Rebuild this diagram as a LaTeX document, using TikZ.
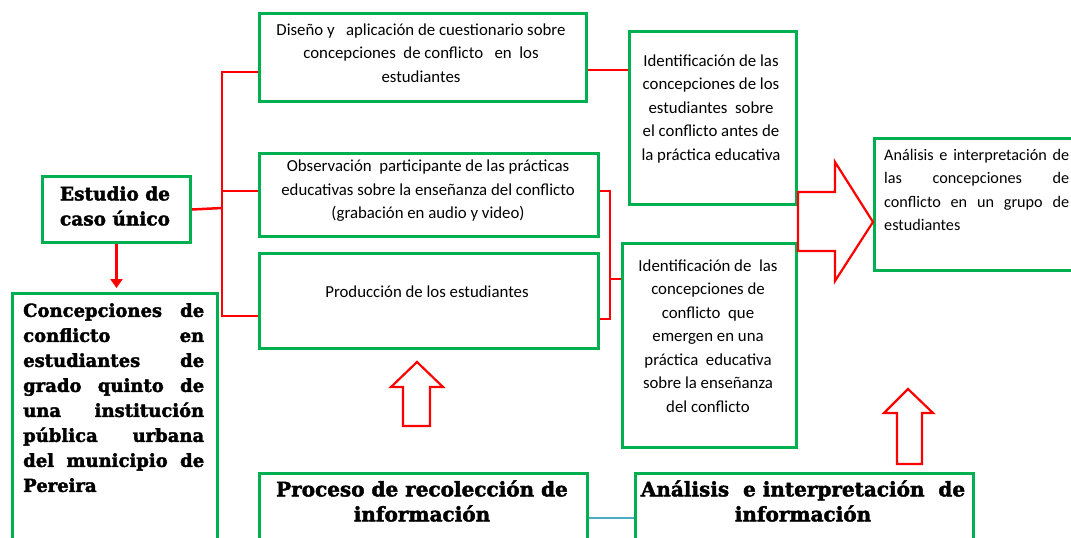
\documentclass[tikz,border=0pt]{standalone}
\usepackage{fontspec}
\setmainfont{Carlito}
\newfontfamily\heavy{DejaVu Serif}[BoldFeatures={FakeBold=2.2}]
\usetikzlibrary{arrows.meta}
\definecolor{bgreen}{HTML}{00B050}
\definecolor{bred}{HTML}{FF0000}
\definecolor{lblue}{HTML}{4BACC6}
\begin{document}
\begin{tikzpicture}[x=1pt,y=-1pt,
 box/.style={draw=bgreen, line width=3pt, inner sep=0pt, anchor=north west},
 txt/.style={font=\fontsize{16.8}{23.5}\selectfont, align=center, inner sep=0pt, text=black},
 hv/.style={font=\heavy\bfseries\fontsize{18}{25}\selectfont, inner sep=0pt},
 con/.style={draw=bred, line width=2.5pt},
 barrow/.style={draw=bred, line width=2.2pt, line join=miter}]
\useasboundingbox (0,0) rectangle (1071,538);
% boxes
\node[box, minimum width=148pt, minimum height=66pt] (est) at (41,175) {};
\node[box, minimum width=205pt, minimum height=262pt] (conc) at (11,292) {};
\node[box, minimum width=327pt, minimum height=88pt] (dis) at (258,12) {};
\node[box, minimum width=339pt, minimum height=83pt] (obs) at (258,152) {};
\node[box, minimum width=339pt, minimum height=95pt] (prod) at (258,252) {};
\node[box, minimum width=167pt, minimum height=173pt] (id1) at (628,30) {};
\node[box, minimum width=174pt, minimum height=204pt] (id2) at (621,242) {};
\node[box, minimum width=215pt, minimum height=132pt] (res) at (873,137) {};
\node[box, minimum width=328pt, minimum height=82pt] (proc) at (258,472) {};
\node[box, minimum width=338pt, minimum height=82pt] (ana) at (634,472) {};
% texts
\node[hv, align=center, font=\heavy\bfseries\fontsize{18.5}{25}\selectfont] (estT) at (115,206) {Estudio de\\caso único};
\node[hv, anchor=north west, text width=181pt, align=left] (concT) at (23,303)
 {Concepciones\hfill de\\conflicto\hfill en\\estudiantes\hfill de\\grado\hfill quinto\hfill de\\una\hfill institución\\pública\hfill urbana\\del\hfill municipio\hfill de\\Pereira};
\node[txt] (disT) at (421,53) {Diseño y \ \ aplicación de cuestionario sobre\\concepciones \ de conflicto \ \ en \ los\\estudiantes};
\node[txt] (obsT) at (428,191) {Observación \ participante de las prácticas\\educativas sobre la enseñanza del conflicto\\(grabación en audio y video)};
\node[txt] (prodT) at (427,292) {Producción de los estudiantes};
\node[txt] (id1T) at (711,109) {Identificación de las\\concepciones de los\\estudiantes \ sobre\\el conflicto antes de\\la práctica educativa};
\node[txt] (id2T) at (708,336) {Identificación de \ las\\concepciones de\\conflicto \ que\\emergen en una\\práctica \ educativa\\sobre la enseñanza\\del conflicto};
\node[txt, anchor=north west, text width=185pt, align=left, font=\fontsize{16.2}{23.5}\selectfont] (resT) at (884,149)
 {Análisis\hfill e\hfill interpretación\hfill de\\las\hfill concepciones\hfill de\\conflicto\hfill en\hfill un\hfill grupo\hfill de\\estudiantes};
\node[hv, align=center, font=\heavy\bfseries\fontsize{20}{25}\selectfont] (procT) at (422,501) {Proceso de recolección de\\información};
\node[hv, align=center, font=\heavy\bfseries\fontsize{20}{25}\selectfont] (anaT) at (803,501) {Análisis \ e interpretación \ de\\información};
% connectors
\coordinate (j) at (222,208);
\draw[con] (est.east) -- (j);
\draw[con] (dis.west |- 0,72) -- (222,72) -- (222,316) -- (prod.west |- 0,316);
\draw[con] (222,191) -- (obs.west |- 0,191);
\draw[con] (dis.east |- 0,70) -- (id1.west |- 0,70);
\draw[con] (obs.east |- 0,191) -- (610,191) -- (610,319) -- (prod.east |- 0,319);
\draw[con] (610,279) -- (id2.west |- 0,279);
\draw[con, -{Triangle[width=12pt,length=9pt]}, shorten >=4pt] (est.south) -- (est.south |- conc.north);
\draw[lblue, line width=2.5pt] (proc.east |- 0,518) -- (ana.west |- 0,518);
% block arrows
\draw[barrow] (id1.east |- 0,192) -- (835,192) -- (835,162) -- (873,222) -- (835,281) -- (835,251) -- (id1.east |- 0,251) -- cycle;
\draw[barrow] (403,426) -- (403,387) -- (391,387) -- (417,362) -- (443,387) -- (430,387) -- (430,426) -- cycle;
\draw[barrow] (897,464) -- (897,413) -- (884,413) -- (908,389) -- (933,413) -- (922,413) -- (922,464) -- cycle;
\end{tikzpicture}
\end{document}
